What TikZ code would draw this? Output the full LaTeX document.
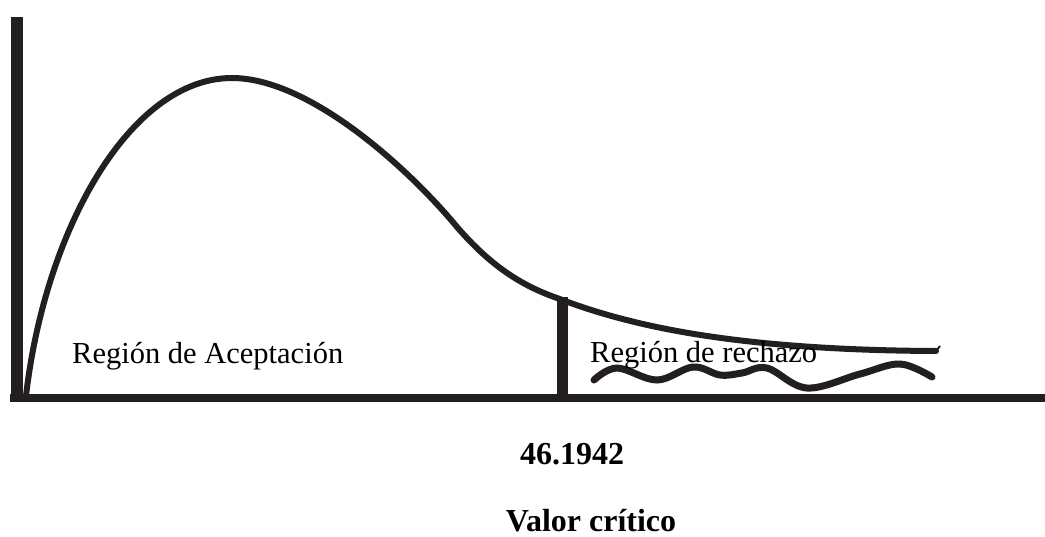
\documentclass[tikz,border=0pt]{standalone}
\usepackage{fontspec}
\setmainfont{Liberation Serif}
\definecolor{ink}{RGB}{35,31,32}
\begin{document}
\begin{tikzpicture}[x=1pt,y=-1pt,
  axisline/.style={draw=ink,line width=#1},
  curveline/.style={draw=ink,line width=6pt,line cap=round},
  lbl/.style={inner sep=0pt,anchor=base west,font=\fontsize{30.5}{36}\selectfont},
  boldlbl/.style={inner sep=0pt,anchor=base,font=\fontsize{32}{38}\selectfont\bfseries}]
\useasboundingbox (0,0) rectangle (1045,536);
% axes
\draw[axisline=12pt] (16.5,17) -- (16.5,402);
\draw[axisline=8pt] (10,398) -- (1045,398);
% density curve
\coordinate (c0) at (26,396);
\coordinate (peak) at (232,78);
\coordinate (kink) at (457,227);
\coordinate (crit) at (557,298);
\coordinate (tail) at (936,351);
\draw[curveline] (c0) .. controls (45,230) and (130,78) .. (peak)
  .. controls (310,78) and (410,170) .. (kink)
  .. controls (490,265) and (520,285) .. (crit)
  .. controls (620,322) and (720,350) .. (tail);
\coordinate (hook) at (940,346);
\draw[draw=ink,line width=2pt] (tail) -- (hook);
% critical value line
\coordinate (ctop) at (562,297);
\coordinate (cbot) at (562,396);
\draw[axisline=11pt] (ctop) -- (cbot);
% wave in rejection region
\draw[curveline,line width=7pt] plot[smooth,tension=0.6] coordinates {
 (594,380) (617,368) (657,380) (693,367) (720,375) (742,373) (767,368)
 (807,388) (860,374) (900,364) (932,377)};
% labels
\node[lbl] (acc) at (72,363) {Región de Aceptación};
\node[lbl] (rej) at (590,362) {Región de rechazo};
\node[boldlbl] (val) at (572,464) {46.1942};
\node[boldlbl] (critlbl) at (591,531) {Valor crítico};
\end{tikzpicture}
\end{document}
